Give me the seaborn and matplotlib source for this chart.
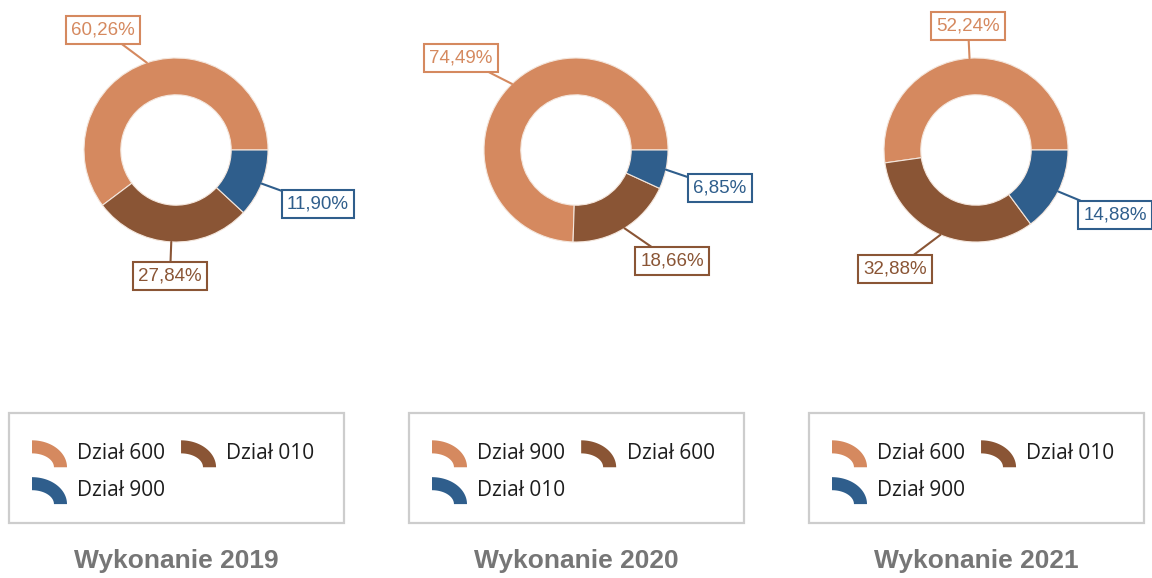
import numpy as np
import matplotlib
matplotlib.use("Agg")
import matplotlib.pyplot as plt
import seaborn as sns
from matplotlib.patches import Wedge, Rectangle, PathPatch
from matplotlib.path import Path
from matplotlib.legend_handler import HandlerBase

# --- data -------------------------------------------------------------
years = ["2019", "2020", "2021"]
names_2019 = ["Dział 600", "Dział 010", "Dział 900"]
names_2020 = ["Dział 900", "Dział 600", "Dział 010"]
names_2021 = ["Dział 600", "Dział 010", "Dział 900"]
shares_2019 = [60.26, 27.84, 11.90]
shares_2020 = [74.49, 18.66, 6.85]
shares_2021 = [52.24, 32.88, 14.88]

names = [names_2019, names_2020, names_2021]
shares = [shares_2019, shares_2020, shares_2021]

# --- style ------------------------------------------------------------
sns.set_theme(style="white")
palette = sns.color_palette(["#D5895F", "#8A5535", "#2F5E8C"])

W, H = 1152, 578
fig = plt.figure(figsize=(W / 100, H / 100), dpi=100)
ax = fig.add_axes([0, 0, 1, 1])

centers_x = [176, 576, 976]
center_y = 150
radius = 92
ring = 0.40 * radius

# label box centres for the three slices of each ring
label_pos = [
    [(103, 30), (170, 276), (318, 204)],
    [(461, 58), (672, 261), (720, 188)],
    [(968, 26), (895, 269), (1115, 215)],
]


class ArcHandler(HandlerBase):
    """Legend key drawn as a quarter of a ring."""

    def create_artists(self, legend, orig_handle, xdescent, ydescent,
                       width, height, fontsize, trans):
        a = width
        b = 19.4
        t = 9.4
        x0 = -xdescent
        y0 = -ydescent + height / 2 - b / 2 - 1.5
        th = np.linspace(0, np.pi / 2, 48)
        outer = np.column_stack([x0 + a * np.cos(th), y0 + b * np.sin(th)])
        inner = np.column_stack([x0 + (a - t) * np.cos(th[::-1]),
                                 y0 + (b - t) * np.sin(th[::-1])])
        verts = np.vstack([outer, inner, outer[:1]])
        codes = [Path.MOVETO] + [Path.LINETO] * (len(verts) - 2) + [Path.CLOSEPOLY]
        patch = PathPatch(Path(verts, codes), facecolor=orig_handle.get_facecolor(),
                          edgecolor="none", transform=trans)
        return [patch]


for i, (year, labs, vals) in enumerate(zip(years, names, shares)):
    cx = centers_x[i]
    wedges, _ = ax.pie(vals, colors=palette, startangle=0, counterclock=False,
                       radius=radius, center=(cx, center_y), frame=True,
                       wedgeprops=dict(width=ring, edgecolor="#F4E6DC", linewidth=0.8))
    for j, (w, v) in enumerate(zip(wedges, vals)):
        mid = np.deg2rad((w.theta1 + w.theta2) / 2)
        px = cx + radius * np.cos(mid)
        py = center_y + radius * np.sin(mid)
        col = palette[j]
        txt = f"{v:.2f}".replace(".", ",") + "%"
        ax.annotate(txt, xy=(px, py), xytext=label_pos[i][j],
                    ha="center", va="center", fontsize=13.5, color=col,
                    family="Liberation Sans",
                    bbox=dict(boxstyle="square,pad=0.27", fc="white", ec=col, lw=1.5),
                    arrowprops=dict(arrowstyle="-", color=col, lw=1.5,
                                    shrinkA=0, shrinkB=0))

    # legend frame
    ax.add_patch(Rectangle((cx - 167.5, 413), 335, 110, fill=False,
                           edgecolor="#CDCDCD", linewidth=1.6))
    order = [0, 2, 1]
    leg = fig.legend([wedges[k] for k in order], [labs[k] for k in order],
                     handler_map={Wedge: ArcHandler()}, ncol=2, frameon=False,
                     loc="upper left", bbox_to_anchor=(cx - 144, 443),
                     bbox_transform=ax.transData, borderpad=0, borderaxespad=0,
                     handlelength=1.68, handletextpad=0.5, columnspacing=0.75,
                     labelspacing=0.76,
                     prop=dict(family="Open Sans", size=15))
    for t in leg.get_texts():
        t.set_color("#1E1E1E")

    ax.text(cx, 561, f"Wykonanie {year}", ha="center", va="center",
            fontsize=19, fontweight="bold", color="#767676",
            family="Liberation Sans")

ax.set_xlim(0, W)
ax.set_ylim(H, 0)
ax.set_aspect("auto")
ax.axis("off")

fig.savefig("out.png", dpi=100)
